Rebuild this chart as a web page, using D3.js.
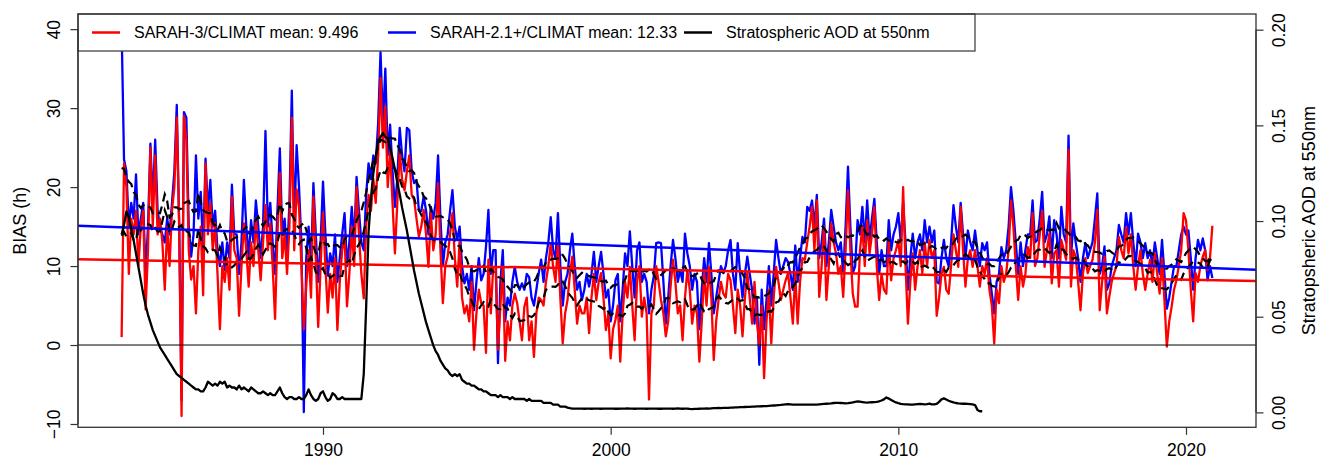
<!DOCTYPE html>
<html>
<head>
<meta charset="utf-8">
<script src="https://cdn.jsdelivr.net/npm/d3@7"></script>
<style>
  body { margin: 0; background: #fff; }
  svg { display: block; }
  text { font-family: "Liberation Sans", Arial, Helvetica, sans-serif; fill: #000; }
</style>
</head>
<body>
<svg id="chart" width="1320" height="459"></svg>
<script>
// Monthly series, January 1983 onwards
const startYear = 1983;

// SARAH-3 / CLIMAT sunshine-duration bias (h)
const sarah3Bias = [
  1, 23, 20, 9, 16, 14, 17, 10, 15, 17, 4.5, 12,
  25, 15, 24, 14, 16, 13, 7, 15, 10, 17, 20, 28.8,
  15, -9, 29, 26, 12, 8.3, 10, 4, 12, 15, 6.3, 23,
  14, 18, 12, 15.4, 9, 2, 10, 8, 11, 7, 18.8, 12,
  11, 3.7, 10, 15.4, 12, 7.4, 13, 10, 16, 12, 8.2, 13,
  17.7, 12, 15.4, 10, 3.3, 14, 21.8, 11, 14, 9, 15, 28.8,
  12, 19.7, 17.5, 10, 2, 7.4, 12, 6, 18.8, 11, 2.3, 10,
  16.7, 10, 4.1, 9, 6, 11, 1.9, 8, 12, 14, 4.9, 9,
  15, 10, 20, 14, 9, 5.9, 15, 19, 17, 21, 18, 24,
  33.8, 25, 30.2, 20, 24.7, 18, 11.6, 18, 24.5, 21, 19.6, 22,
  24, 19, 18.4, 16, 13.7, 15, 17.1, 14, 9.9, 16.7, 12, 14,
  20.5, 12, 5.3, 10, 11.2, 14, 16.7, 11, 7.4, 13.3, 6, 4,
  5, 3, 8, -0.6, 4, 7, 5.3, 5, -1, 10.8, 4, 9.9,
  9.9, -0.6, 5, 9.9, -2, 3, 0.6, 5, 6.5, 5.3, 3, 0.6,
  4.85, 6, 0.6, 3, -1.5, 4, 6, 5.7, 5, 8, 10, 12.9,
  9.9, 8, 12.9, 6, 0.2, 4, 5.7, 9, 11.2, 7, 2.7, 5,
  4, 4, 6, 1.5, 6, 9, 5.7, 8, 9.1, 6, 1.9, 4,
  -1.7, 2, 3.2, 5, -2.1, 4, 8, 6, 9.9, 5, 0.6, 8,
  10, 3.6, 6, 4, -6.9, 4, 5, 10, 8, 5.7, 4, 1.1,
  3, 7.4, 10.8, 8, 4, 5, 0.6, 6, 9.5, 7, 2.7, 5,
  4, -2.1, 3, 9.1, 5, 9.9, 6, -1.9, 3, 5.7, 8, 6.5,
  6, 9, 8.2, 5, 1.5, 7, 5, 1.1, 6, 9.1, 6, 2.7,
  8, 3, 0, 5, -4.2, 3, 7, 0.2, 6, 9.9, 8, 5.7,
  7, 8.2, 9.1, 6, 2.7, 9, 2.7, 8, 11, 10.8, 13, 15,
  17.5, 12, 18.3, 6.1, 10, 15, 5.7, 10, 15.4, 13, 11.6, 9,
  10, 6.1, 12, 19.6, 12, 6.5, 4.85, 4.85, 12, 15, 10, 15.8,
  11.6, 14, 17.5, 10, 5.7, 9, 7, 6.5, 13.3, 8.2, 11, 12,
  13.3, 10, 20, 10, 2.7, 8, 11.6, 7, 9.9, 12, 9.1, 13,
  10, 13.3, 11, 12, 3.7, 6, 9, 9.9, 7, 6.5, 10, 14,
  12, 9.9, 17.5, 12, 7.4, 11, 12, 9.9, 12, 10, 7.4, 10,
  9, 11, 7, 5, 0.2, 7, 5.3, 10, 8, 9.1, 12, 18.3,
  15, 10, 5.7, 10, 7.4, 9, 12.4, 11, 16.7, 10, 11, 14,
  17, 9.9, 12, 14.1, 7.8, 11.6, 12, 7.4, 13.3, 12, 10.8, 24.7,
  7.4, 12, 11.2, 8, 4.4, 9, 11, 9.1, 10, 10.8, 13, 17.1,
  4.4, 8, 11.2, 4, 6.1, 8, 9.1, 10, 13.7, 12, 11, 14.9,
  11.6, 14, 10, 7, 10, 12, 9, 7, 9, 10.8, 8, 11.6,
  9, 6.5, 11, 5.7, -0.2, 3, 4.85, 7, 8.2, 10, 12, 16.7,
  15.8, 12, 7, 3, 9.1, 8, 10, 11.2, 12, 9.5, 11, 15.1
];

// SARAH-2.1+ / CLIMAT sunshine-duration bias (h)
const sarah21Bias = [
  40, 23.5, 22, 15, 18, 16, 21.6, 14, 16, 18, 9, 15,
  25.5, 18, 26, 17, 15, 14, 13, 16, 14, 18, 22, 30.4,
  15.5, -7, 29.5, 28.8, 15, 11.2, 14, 24, 16, 19.4, 12, 23.6,
  17, 20.9, 15, 17, 12, 10, 13, 9.5, 13, 11, 20.3, 14,
  14, 9, 13, 20.9, 15, 11, 15.8, 13, 18.3, 15, 11, 15,
  27.1, 15, 18, 13, 9, 17, 24.9, 14, 16, 11, 18, 32.2,
  15, 25.3, 20, 13, -8.5, 11, 15, 10, 20.5, 14, 8, 13,
  20.7, 14, 8.8, 11.6, 10, 14, 8, 11, 14, 16.7, 10, 13,
  17.5, 13, 21.3, 17, 13, 12, 19, 23, 21, 24, 23, 28,
  37.1, 28, 35, 24, 27.9, 22, 17.5, 21, 27.5, 24, 22, 27.5,
  27.2, 22, 20.5, 20.9, 17, 17, 18.8, 17, 14, 17.5, 16, 18,
  24, 16, 10, 13, 14, 17, 19.6, 15, 13.3, 15, 10, 7.8,
  9, 7, 10, 4.4, 8, 11, 8.2, 9, 12.5, 17.1, 9, 12,
  12, -2.3, 8, 12, 3, 6, 5, 8, 9.9, 8, 7, 7.8,
  7, 9, 8.6, 6, 5, 7, 9.1, 10.8, 8, 11, 13, 16.2,
  12, 11, 16.7, 10, 5, 8, 9, 12, 14.1, 10, 7, 8,
  5.7, 7, 9, 7.4, 9, 11.8, 8, 10, 11.8, 9, 6, 7,
  3, 5, 8.2, 9, 3, 7, 11.6, 10, 14.4, 10, 6, 12,
  13, 8, 9, 8, 4, 7, 8.7, 12.9, 13, 12.9, 8, 2.7,
  6, 10, 13.3, 11, 8, 9.5, 8, 14.1, 11.6, 10, 7, 9,
  8, 2, 7, 11, 8, 12.9, 9, 4, 6, 8, 10, 9.1,
  10, 12, 13.3, 9, 7, 12.9, 9, 6, 9, 11.2, 9, 7,
  2.7, 6, -2.5, 7, 2, 5.7, 10, 5, 9, 13.3, 11, 9,
  10, 11, 10.5, 9, 7, 12.6, 8, 11, 13.7, 13, 17.5, 17,
  18.3, 15, 19, 11, 13, 16, 10, 13, 17.1, 15, 13, 12,
  13, 9, 15, 22.6, 15, 9.1, 10, 15.8, 14, 17.5, 13, 18.3,
  13.3, 16, 18.5, 13, 9, 12, 10, 10, 15.8, 12, 14, 15,
  16.7, 13, 18, 13, 7, 11, 14.1, 11, 13, 14, 12, 15.8,
  13, 15, 13, 14.5, 8, 7.8, 11, 13.3, 11, 10, 13, 17.7,
  15, 13, 18, 14, 11, 14.5, 13, 12, 14.5, 12, 10, 12.9,
  12, 13, 9, 6.5, 4, 8, 9, 12.4, 11, 12, 15, 20,
  17, 13, 9, 13, 10, 12, 14, 14, 18.3, 13, 13.3, 16,
  19.4, 13, 14, 16.3, 11, 15.8, 14, 11, 17.5, 14, 13, 26.5,
  11, 15.4, 13, 11, 8, 11, 12.9, 11, 12, 13, 16, 19.2,
  9, 10, 12.5, 7, 7.8, 10, 11, 12, 15.2, 14, 13, 16.7,
  14, 16.7, 13, 10, 14.1, 13, 11, 12.9, 11, 12, 10, 13,
  11, 9, 13.3, 9, 4.6, 6, 8, 10, 10, 12, 14, 15,
  14, 14.5, 11, 7, 11, 13.3, 12, 13.5, 12, 8.2, 10, 8.5
];

// Stratospheric aerosol optical depth at 550 nm, monthly 1983-2012
const stratAod = [
  0.093, 0.098, 0.105, 0.102, 0.096, 0.090, 0.083, 0.076, 0.069, 0.062, 0.056, 0.051,
  0.047, 0.043, 0.040, 0.037, 0.034, 0.032, 0.030, 0.028, 0.026, 0.024, 0.022, 0.020,
  0.019, 0.018, 0.017, 0.016, 0.015, 0.014, 0.013, 0.012, 0.012, 0.011, 0.011, 0.013,
  0.016, 0.015, 0.014, 0.015, 0.014, 0.016, 0.015, 0.016, 0.013, 0.014, 0.013, 0.013,
  0.012, 0.014, 0.012, 0.013, 0.012, 0.011, 0.013, 0.012, 0.011, 0.010, 0.010, 0.011,
  0.010, 0.009, 0.010, 0.009, 0.009, 0.011, 0.013, 0.010, 0.008, 0.007, 0.008, 0.008,
  0.007, 0.007, 0.008, 0.007, 0.007, 0.009, 0.012, 0.009, 0.007, 0.006, 0.007, 0.010,
  0.011, 0.008, 0.006, 0.007, 0.010, 0.009, 0.007, 0.007, 0.008, 0.007, 0.007, 0.007,
  0.007, 0.007, 0.007, 0.007, 0.007, 0.020, 0.055, 0.094, 0.112, 0.125, 0.133, 0.142,
  0.144, 0.146, 0.144, 0.143, 0.138, 0.133, 0.127, 0.120, 0.114, 0.107, 0.101, 0.095,
  0.088, 0.081, 0.074, 0.068, 0.062, 0.057, 0.052, 0.047, 0.043, 0.039, 0.035, 0.032,
  0.030, 0.027, 0.025, 0.023, 0.022, 0.020, 0.019, 0.020, 0.019, 0.020, 0.017, 0.016,
  0.015, 0.015, 0.014, 0.014, 0.013, 0.012, 0.012, 0.011, 0.011, 0.010, 0.009, 0.009,
  0.009, 0.008, 0.009, 0.008, 0.008, 0.008, 0.007, 0.008, 0.007, 0.007, 0.007, 0.007,
  0.007, 0.006, 0.007, 0.006, 0.006, 0.006, 0.006, 0.006, 0.005, 0.005, 0.005, 0.005,
  0.004, 0.004, 0.004, 0.003, 0.003, 0.003, 0.0025, 0.0022, 0.002, 0.002, 0.002, 0.002,
  0.002, 0.0019, 0.002, 0.002, 0.0019, 0.002, 0.002, 0.002, 0.0019, 0.002, 0.002, 0.002,
  0.002, 0.002, 0.0019, 0.0019, 0.002, 0.002, 0.002, 0.0021, 0.002, 0.002, 0.0019, 0.002,
  0.002, 0.002, 0.002, 0.0019, 0.002, 0.002, 0.002, 0.002, 0.0019, 0.0019, 0.002, 0.002,
  0.002, 0.002, 0.0019, 0.002, 0.0021, 0.002, 0.0019, 0.002, 0.002, 0.0018, 0.0017, 0.0018,
  0.0018, 0.0019, 0.002, 0.002, 0.0021, 0.002, 0.0021, 0.0022, 0.0022, 0.0023, 0.0022, 0.0023,
  0.0024, 0.0024, 0.0025, 0.0025, 0.0026, 0.0026, 0.0027, 0.0027, 0.0028, 0.0029, 0.0029, 0.003,
  0.003, 0.0031, 0.0031, 0.0032, 0.0033, 0.0033, 0.0034, 0.0035, 0.0036, 0.0037, 0.0038, 0.0039,
  0.0041, 0.0042, 0.0043, 0.0042, 0.0041, 0.0041, 0.004, 0.004, 0.004, 0.0041, 0.004, 0.0041,
  0.004, 0.004, 0.0041, 0.0042, 0.0043, 0.0044, 0.0045, 0.0046, 0.0047, 0.0049, 0.005, 0.005,
  0.0049, 0.0048, 0.0047, 0.0048, 0.005, 0.0052, 0.0055, 0.0057, 0.0056, 0.0054, 0.0052, 0.0051,
  0.0052, 0.0053, 0.0054, 0.0055, 0.0058, 0.0062, 0.0068, 0.0078, 0.0072, 0.0065, 0.0058, 0.0052,
  0.0048, 0.0045, 0.0043, 0.0042, 0.0042, 0.0041, 0.0041, 0.0042, 0.0043, 0.0044, 0.0043, 0.0042,
  0.0043, 0.0046, 0.0042, 0.0042, 0.0044, 0.0055, 0.0068, 0.0073, 0.0067, 0.0061, 0.0056, 0.0052,
  0.0049, 0.0047, 0.0046, 0.0045, 0.0045, 0.0044, 0.0043, 0.0042, 0.0038, 0.0013, 0.0006, 0.0006
];

// Series means (legend) and linear-trend slopes in hours per year
const seriesMeans = [9.496, 12.33];
const trendSlopes = [-0.0672, -0.136];

const biasTicks = [-10, 0, 10, 20, 30, 40];
const aodTicks = [0, 0.05, 0.10, 0.15, 0.20];
const yearTicks = [1990, 2000, 2010, 2020];
const legendLabels = [
  "SARAH-3/CLIMAT mean: 9.496",
  "SARAH-2.1+/CLIMAT mean: 12.33",
  "Stratospheric AOD at 550nm"
];
const seriesColors = ["#ff0000", "#0000ff", "#000000"];

// ---- layout ----
const plot = { left: 78, right: 1256, top: 14, bottom: 427.3 };
const svg = d3.select("#chart");

const timeOf = i => startYear + i / 12;
const nMonths = sarah3Bias.length;
const tFirst = timeOf(0), tLast = timeOf(nMonths - 1);
const tPad = (tLast - tFirst) * 0.04;

const x = d3.scaleLinear().domain([tFirst - tPad, tLast + tPad]).range([plot.left, plot.right]);
const yBias = d3.scaleLinear().domain([-10.42, 41.92]).range([plot.bottom, plot.top]);
const yAod = d3.scaleLinear().domain([-0.0078, 0.2082]).range([plot.bottom, plot.top]);

svg.append("defs").append("clipPath").attr("id", "plotClip")
  .append("rect")
  .attr("x", plot.left).attr("y", plot.top)
  .attr("width", plot.right - plot.left).attr("height", plot.bottom - plot.top);

const g = svg.append("g").attr("clip-path", "url(#plotClip)");

const biasLine = d3.line().x((d, i) => x(timeOf(i))).y(d => yBias(d));
const aodLine = d3.line().x((d, i) => x(timeOf(i))).y(d => yAod(d));

// 12-month centred running mean (shorter window at the ends)
function runningMean(arr) {
  return arr.map((_, i) => d3.mean(arr.slice(Math.max(0, i - 6), Math.min(arr.length, i + 6))));
}

// monthly series
g.append("path").datum(sarah21Bias).attr("d", biasLine)
  .attr("fill", "none").attr("stroke", seriesColors[1]).attr("stroke-width", 2.3).attr("stroke-linejoin", "round");
g.append("path").datum(sarah3Bias).attr("d", biasLine)
  .attr("fill", "none").attr("stroke", seriesColors[0]).attr("stroke-width", 2.3).attr("stroke-linejoin", "round");

// running means
[sarah21Bias, sarah3Bias].forEach(s => {
  g.append("path").datum(runningMean(s)).attr("d", biasLine)
    .attr("fill", "none").attr("stroke", "#000").attr("stroke-width", 2.2)
    .attr("stroke-dasharray", "9,5");
});

// linear trends across the full panel
const tMid = (tFirst + tLast) / 2;
const xDom = x.domain();
[1, 0].forEach(k => {
  g.append("line")
    .attr("x1", x(xDom[0])).attr("x2", x(xDom[1]))
    .attr("y1", yBias(seriesMeans[k] + trendSlopes[k] * (xDom[0] - tMid)))
    .attr("y2", yBias(seriesMeans[k] + trendSlopes[k] * (xDom[1] - tMid)))
    .attr("stroke", seriesColors[k]).attr("stroke-width", 2.5);
});

// zero reference
g.append("line")
  .attr("x1", plot.left).attr("x2", plot.right)
  .attr("y1", yBias(0)).attr("y2", yBias(0))
  .attr("stroke", "#000").attr("stroke-width", 1);

// stratospheric AOD
g.append("path").datum(stratAod).attr("d", aodLine)
  .attr("fill", "none").attr("stroke", "#000").attr("stroke-width", 2.3).attr("stroke-linejoin", "round");

// ---- legend ----
const legend = svg.append("g");
legend.append("rect")
  .attr("x", plot.left).attr("y", plot.top).attr("width", 897).attr("height", 37)
  .attr("fill", "#fff").attr("stroke", "#444").attr("stroke-width", 1.3);
const legendX = [92, 388, 684];
legendLabels.forEach((lab, k) => {
  legend.append("line")
    .attr("x1", legendX[k]).attr("x2", legendX[k] + 28)
    .attr("y1", 32.5).attr("y2", 32.5)
    .attr("stroke", seriesColors[k]).attr("stroke-width", 2.5);
  legend.append("text")
    .attr("x", legendX[k] + 42).attr("y", 38.2)
    .attr("font-size", "16px").text(lab);
});

// ---- frame and axes ----
svg.append("rect")
  .attr("x", plot.left).attr("y", plot.top)
  .attr("width", plot.right - plot.left).attr("height", plot.bottom - plot.top)
  .attr("fill", "none").attr("stroke", "#333").attr("stroke-width", 1.3);

function styleAxis(sel) {
  sel.select(".domain").remove();
  sel.selectAll(".tick line").attr("stroke", "#333").attr("stroke-width", 1.2);
  sel.selectAll(".tick text").attr("font-size", "17.5px").attr("fill", "#000");
}

const axL = svg.append("g").attr("transform", `translate(${plot.left},0)`)
  .call(d3.axisLeft(yBias).tickValues(biasTicks).tickSize(7.5).tickFormat(d3.format("d")))
  .call(styleAxis);
axL.append("line").attr("x1", 0).attr("x2", 0)
  .attr("y1", yBias(biasTicks[0])).attr("y2", yBias(biasTicks[biasTicks.length - 1]))
  .attr("stroke", "#333").attr("stroke-width", 1.2);
axL.selectAll(".tick text")
  .attr("x", null).attr("dy", null).attr("text-anchor", "middle")
  .attr("transform", "translate(-18,0) rotate(-90)");

const axR = svg.append("g").attr("transform", `translate(${plot.right},0)`)
  .call(d3.axisRight(yAod).tickValues(aodTicks).tickSize(7.5).tickFormat(d3.format(".2f")))
  .call(styleAxis);
axR.append("line").attr("x1", 0).attr("x2", 0)
  .attr("y1", yAod(aodTicks[0])).attr("y2", yAod(aodTicks[aodTicks.length - 1]))
  .attr("stroke", "#333").attr("stroke-width", 1.2);
axR.selectAll(".tick text")
  .attr("x", null).attr("dy", null).attr("text-anchor", "middle")
  .attr("transform", "translate(28.6,0) rotate(-90)");

const axB = svg.append("g").attr("transform", `translate(0,${plot.bottom})`)
  .call(d3.axisBottom(x).tickValues(yearTicks).tickSize(7.5).tickFormat(d3.format("d")))
  .call(styleAxis);
axB.selectAll(".tick text").attr("y", 29.2).attr("dy", null);

// axis titles
svg.append("text")
  .attr("transform", `translate(25.5,${(plot.top + plot.bottom) / 2}) rotate(-90)`)
  .attr("text-anchor", "middle").attr("font-size", "18px").text("BIAS (h)");
svg.append("text")
  .attr("transform", `translate(1314.5,${(plot.top + plot.bottom) / 2}) rotate(-90)`)
  .attr("text-anchor", "middle").attr("font-size", "18px").text("Stratopsheric AOD at 550nm");
</script>
</body>
</html>
